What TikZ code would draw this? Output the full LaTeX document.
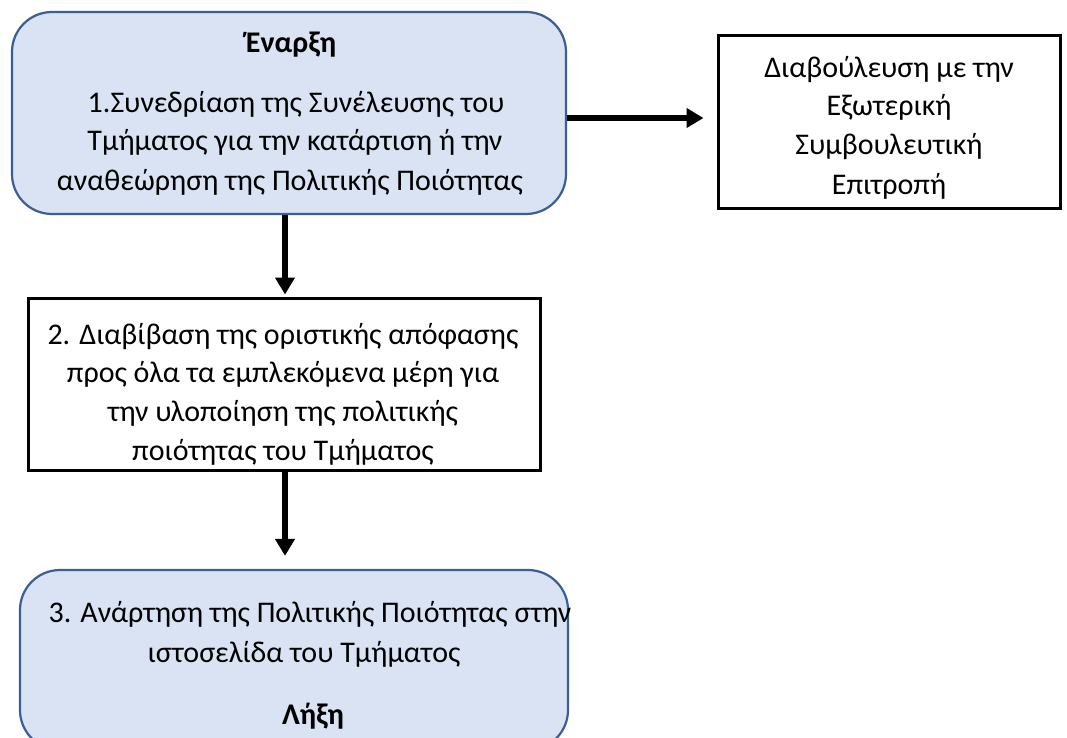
\documentclass[tikz,border=0pt]{standalone}
\usepackage{fontspec}
\setmainfont{Carlito}
\usetikzlibrary{arrows.meta}
\definecolor{boxfill}{HTML}{DAE3F3}
\definecolor{boxline}{HTML}{3B5E96}
\tikzset{
  rbox/.style={draw=boxline, fill=boxfill, line width=2.2pt, rounded corners=40pt, inner sep=0pt},
  sbox/.style={draw=black, fill=white, line width=3pt, inner sep=0pt},
  txt/.style={anchor=base, inner sep=0pt, font=\fontsize{30}{36}\selectfont},
  btxt/.style={txt, font=\fontsize{30}{36}\selectfont\bfseries},
  arr/.style={line width=5.5pt, -{Triangle[length=17pt,width=19pt]}},
}
\begin{document}
\begin{tikzpicture}[x=1pt,y=-1pt]
\clip (0,0) rectangle (1067,738);
\fill[white] (0,0) rectangle (1067,738);
% boxes
\node[rbox, minimum width=554pt, minimum height=202pt] (b1) at (289,113) {};
\node[sbox, minimum width=342pt, minimum height=172pt] (br) at (889,122) {};
\node[sbox, minimum width=512pt, minimum height=172pt] (b2) at (284,384) {};
\node[rbox, minimum width=548pt, minimum height=180pt] (b3) at (294,660) {};
% texts box 1
\node[btxt] (t1a) at (291,53) {Έναρξη};
\node[txt] (t1b) at (296,113) {1.Συνεδρίαση της Συνέλευσης του};
\node[txt] (t1c) at (295,151) {Τμήματος για την κατάρτιση ή την};
\node[txt] (t1d) at (290,190) {αναθεώρηση της Πολιτικής Ποιότητας};
% right box
\node[txt] (tra) at (889,78) {Διαβούλευση με την};
\node[txt] (trb) at (889,116) {Εξωτερική};
\node[txt] (trc) at (889,155) {Συμβουλευτική};
\node[txt] (trd) at (889,194) {Επιτροπή};
% box 2
\node[txt] (t2a) at (283,344) {2. Διαβίβαση της οριστικής απόφασης};
\node[txt] (t2b) at (283,382) {προς όλα τα εμπλεκόμενα μέρη για};
\node[txt] (t2c) at (283,421) {την υλοποίηση της πολιτικής};
\node[txt] (t2d) at (283,460) {ποιότητας του Τμήματος};
% box 3
\node[txt] (t3a) at (310,622) {3. Ανάρτηση της Πολιτικής Ποιότητας στην};
\node[txt] (t3b) at (304,662) {ιστοσελίδα του Τμήματος};
\node[btxt] (t3c) at (313,724) {Λήξη};
% connectors
\coordinate (ya) at (0,118);
\coordinate (xa) at (285,0);
\draw[arr, shorten >=13pt] (b1.east |- ya) -- (br.west |- ya);
\draw[arr, shorten >=2pt] (b1.south -| xa) -- (b2.north -| xa);
\draw[arr, shorten >=13pt] (b2.south -| xa) -- (b3.north -| xa);
\end{tikzpicture}
\end{document}
